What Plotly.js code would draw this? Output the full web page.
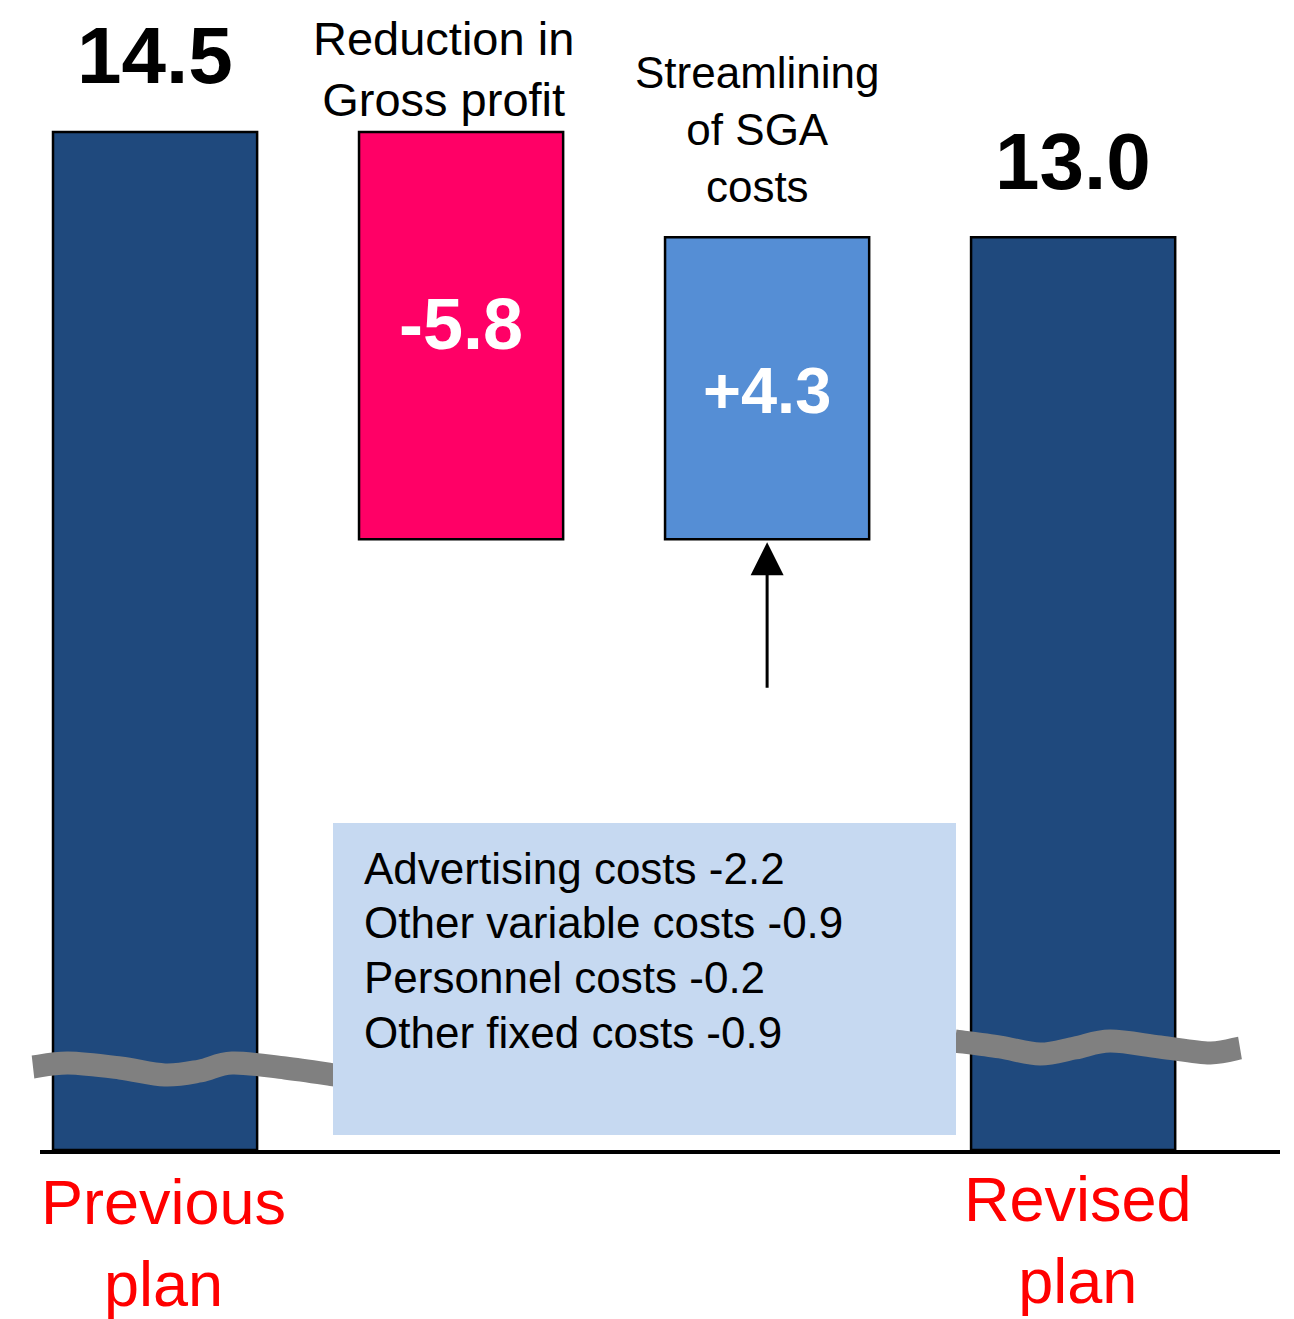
<!DOCTYPE html>
<html>
<head>
<meta charset="utf-8">
<script src="https://cdn.plot.ly/plotly-3.0.1.min.js"></script>
<style>html,body{margin:0;padding:0;background:#fff;}#chart{width:1294px;height:1319px;}</style>
</head>
<body>
<div id="chart"></div>
<script>
// ---- data ----
const categories = ['Previous plan', 'Reduction in Gross profit', 'Streamlining of SGA costs', 'Revised plan'];
const values = [14.5, -5.8, 4.3, 13.0];
const measures = ['total', 'delta', 'delta', 'total'];
const axisLabels = ['Previous<br>plan', '', '', 'Revised<br>plan'];
const stepTitles = ['', 'Reduction in<br>Gross profit', 'Streamlining<br>of SGA<br>costs', ''];
const breakdownItems = ['Advertising costs', 'Other variable costs', 'Personnel costs', 'Other fixed costs'];
const breakdownValues = [-2.2, -0.9, -0.2, -0.9];

// ---- styles ----
const FONT = 'Liberation Sans, Arial, sans-serif';
const colTotal = '#1f497d', colDown = '#ff0066', colUp = '#558ed5';
const W = 1294, H = 1319, M = {l: 40, r: 14, t: 0, b: 169};
const PW = W - M.l - M.r, PH = H - M.t - M.b;

// waterfall geometry computed from data
let running = 0;
const bases = [], heights = [], colors = [];
values.forEach((v, i) => {
  if (measures[i] === 'total') { bases.push(0); heights.push(v); colors.push(colTotal); running = v; }
  else if (v < 0) { bases.push(running + v); heights.push(-v); colors.push(colDown); running += v; }
  else { bases.push(running); heights.push(v); colors.push(colUp); running += v; }
});

const fmt = v => v.toFixed(1);
const fmtSigned = v => (v > 0 ? '+' : '') + v.toFixed(1);

const trace = {
  type: 'bar', x: categories, y: heights, base: bases,
  width: 0.667,
  marker: {color: colors, line: {color: '#000', width: 2.5}},
  hoverinfo: 'skip'
};

// pixel -> paper helpers (for decorative elements)
const px = x => (x - M.l) / PW;
const py = y => 1 - (y - M.t) / PH;

function smoothPath(pts) {
  const P = pts.map(p => [px(p[0]), py(p[1])]);
  let d = `M${P[0][0]},${P[0][1]}`;
  for (let i = 0; i < P.length - 1; i++) {
    const p0 = P[Math.max(i - 1, 0)], p1 = P[i], p2 = P[i + 1], p3 = P[Math.min(i + 2, P.length - 1)];
    const c1 = [p1[0] + (p2[0] - p0[0]) / 6, p1[1] + (p2[1] - p0[1]) / 6];
    const c2 = [p2[0] - (p3[0] - p1[0]) / 6, p2[1] - (p3[1] - p1[1]) / 6];
    d += ` C${c1[0]},${c1[1]} ${c2[0]},${c2[1]} ${p2[0]},${p2[1]}`;
  }
  return d;
}

const waveLeft = [[33,1067],[68,1063],[120,1068],[165,1075],[200,1071],[232,1063],[285,1068],[335,1075]];
const waveRight = [[955,1041],[1000,1047],[1040,1054],[1075,1048],[1110,1041],[1160,1047],[1210,1053],[1240,1048]];

const shapes = [
  {type: 'path', xref: 'paper', yref: 'paper', path: smoothPath(waveLeft), line: {color: '#808080', width: 23}, layer: 'above'},
  {type: 'path', xref: 'paper', yref: 'paper', path: smoothPath(waveRight), line: {color: '#808080', width: 23}, layer: 'above'},
  {type: 'rect', xref: 'paper', yref: 'paper', x0: px(333), x1: px(956), y0: py(1135), y1: py(823),
   fillcolor: '#c6d9f1', line: {width: 0}, layer: 'above'}
];

const annotations = [];
// value labels
categories.forEach((c, i) => {
  const top = bases[i] + heights[i];
  if (measures[i] === 'total') {
    annotations.push({x: c, y: top, xref: 'x', yref: 'y', text: '<b>' + fmt(values[i]) + '</b>',
      showarrow: false, yanchor: 'middle', yshift: 76, font: {family: FONT, size: 80, color: '#000'}});
  } else {
    annotations.push({x: c, y: bases[i] + heights[i] / 2, xref: 'x', yref: 'y',
      text: '<b>' + (values[i] < 0 ? fmt(values[i]) : fmtSigned(values[i])) + '</b>',
      showarrow: false, yanchor: 'middle', yshift: values[i] < 0 ? 12 : -2,
      font: {family: FONT, size: values[i] < 0 ? 72 : 65, color: '#fff'}});
  }
});
// step titles
annotations.push({x: categories[1], y: bases[1] + heights[1], xref: 'x', yref: 'y', text: stepTitles[1],
  showarrow: false, yanchor: 'bottom', yshift: 4, xshift: -18, font: {family: FONT, size: 47, color: '#000'}});
annotations.push({x: categories[2], y: bases[2] + heights[2], xref: 'x', yref: 'y', text: stepTitles[2],
  showarrow: false, yanchor: 'bottom', yshift: 24, xshift: -10, font: {family: FONT, size: 44, color: '#000'}});
// arrow under the SGA bar
annotations.push({x: categories[2], y: bases[2], xref: 'x', yref: 'y', text: '', showarrow: true,
  ax: 0, ay: 150, arrowhead: 2, arrowsize: 2.2, arrowwidth: 3, arrowcolor: '#000', standoff: 3});
// breakdown text box, one line per item
breakdownItems.forEach((t, i) => {
  annotations.push({x: px(362), y: py(868 + i * 54.7), xref: 'paper', yref: 'paper', xanchor: 'left', yanchor: 'middle',
    align: 'left', showarrow: false, text: t + ' ' + fmt(breakdownValues[i]),
    font: {family: FONT, size: 44, color: '#000'}});
});
// category labels under the axis
[[0, 1243], [3, 1240]].forEach(([i, yc]) => {
  annotations.push({x: categories[i], y: py(yc), xref: 'x', yref: 'paper', yanchor: 'middle',
    text: axisLabels[i], showarrow: false, xshift: i === 0 ? 8 : 5,
    font: {family: FONT, size: 63, color: '#ff0000'}});
});

const layout = {
  width: W, height: H, margin: M,
  paper_bgcolor: '#fff', plot_bgcolor: '#fff',
  showlegend: false, bargap: 0,
  xaxis: {type: 'category', range: [-0.376, 3.676], showline: true, linecolor: '#000', linewidth: 4,
    showgrid: false, zeroline: false, ticks: '', showticklabels: false, fixedrange: true},
  yaxis: {range: [0, 16.38], visible: false, showgrid: false, zeroline: false, fixedrange: true},
  shapes: shapes, annotations: annotations
};

Plotly.newPlot('chart', [trace], layout, {displayModeBar: false, staticPlot: true});
</script>
</body>
</html>
